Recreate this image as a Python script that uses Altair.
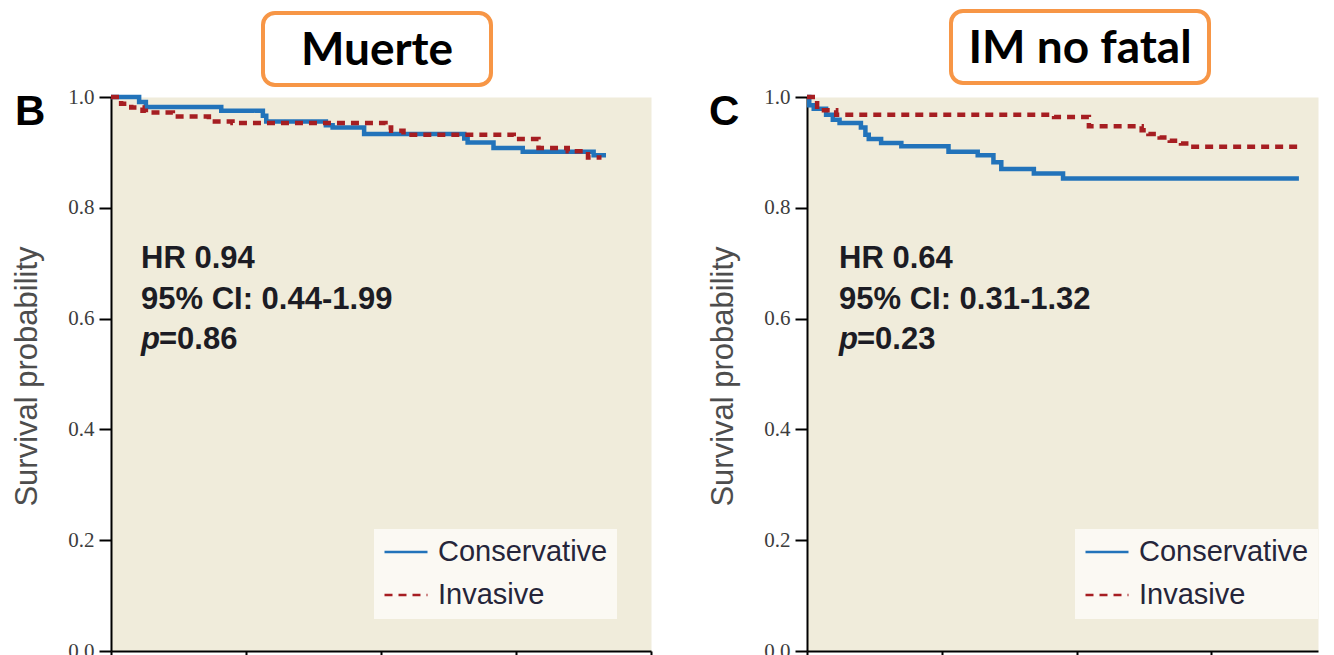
import altair as alt
import pandas as pd

groups = ["Conservative", "Invasive"]

# Panel B (Muerte): time in months, survival probability
b_cons_t = [0, 2.5, 3.1, 9.8, 13.5, 13.8, 19.1, 19.7, 22.5, 31.4, 31.7, 34.0, 36.6, 42.9, 44.0]
b_cons_s = [1.0, 0.991, 0.982, 0.975, 0.966, 0.956, 0.949, 0.945, 0.933, 0.925, 0.918, 0.908, 0.901, 0.895, 0.895]
b_inv_t = [0, 0.9, 1.8, 2.8, 3.1, 5.5, 8.7, 10.8, 24.4, 24.9, 26.0, 35.8, 38.0, 40.6, 42.4, 43.6]
b_inv_s = [1.0, 0.988, 0.981, 0.975, 0.972, 0.965, 0.956, 0.953, 0.945, 0.939, 0.932, 0.924, 0.908, 0.902, 0.891, 0.891]

# Panel C (IM no fatal)
c_cons_t = [0, 0.2, 0.6, 1.7, 2.3, 2.9, 4.8, 5.2, 5.5, 6.6, 8.4, 12.6, 15.2, 16.6, 17.3, 20.2, 22.8, 43.8]
c_cons_s = [1.0, 0.985, 0.979, 0.968, 0.959, 0.953, 0.945, 0.932, 0.924, 0.917, 0.911, 0.901, 0.895, 0.882, 0.870, 0.862, 0.853, 0.853]
c_inv_t = [0, 0.9, 2.6, 22.0, 25.1, 29.8, 30.4, 31.4, 32.3, 33.3, 34.0, 43.8]
c_inv_s = [1.0, 0.976, 0.968, 0.964, 0.947, 0.940, 0.933, 0.927, 0.921, 0.916, 0.910, 0.910]

y_ticks = [0.0, 0.2, 0.4, 0.6, 0.8, 1.0]
x_ticks = [0, 12, 24, 36, 48]

titles = ["Muerte", "IM no fatal"]
letters = ["B", "C"]
hr_text = ["HR 0.94", "HR 0.64"]
ci_text = ["95% CI: 0.44-1.99", "95% CI: 0.31-1.32"]
p_text = ["=0.86", "=0.23"]

BLUE = "#2273ba"
RED = "#a61e22"
BG = "#f0ecdb"
ORANGE = "#f79646"
TXT = "#1c1c24"
ANN = "Liberation Sans Narrow, Liberation Sans"


def frame(ct, cs, it, is_):
    rows = [{"t": t, "s": s, "group": groups[0]} for t, s in zip(ct, cs)]
    rows += [{"t": t, "s": s, "group": groups[1]} for t, s in zip(it, is_)]
    return pd.DataFrame(rows)


one = pd.DataFrame({"k": [0]})


def txt(text, x, y, size, font, weight="bold", style="normal", color=TXT,
        align="left", baseline="alphabetic"):
    return alt.Chart(one).mark_text(
        text=text, align=align, baseline=baseline, font=font, fontSize=size,
        fontWeight=weight, fontStyle=style, color=color
    ).encode(x=alt.value(x), y=alt.value(y))


def panel(df, xmax, width, i, box, legend_x, ann_x, letter_x, anchor=False):
    legend = alt.Legend(
        title=None, orient="none", legendX=legend_x, legendY=432,
        fillColor="#fbf9f3", padding=9, symbolType="stroke", symbolSize=1849,
        symbolStrokeWidth=2.5, labelFont="Liberation Sans", labelFontSize=29,
        labelColor="#25253a", labelOffset=9, rowPadding=14, clipHeight=28,
        labelLimit=0,
    )
    lines = alt.Chart(df).mark_line(interpolate="step-after", strokeWidth=4.5).encode(
        x=alt.X("t:Q", scale=alt.Scale(domain=[0, xmax], nice=False, zero=False),
                axis=alt.Axis(values=x_ticks, labels=False, title=None, tickSize=7,
                              tickWidth=2, tickColor="black", domainColor="black",
                              domainWidth=2, grid=False)),
        y=alt.Y("s:Q", scale=alt.Scale(domain=[0, 1], nice=False),
                axis=alt.Axis(values=y_ticks, format=".1f", title="Survival probability",
                              titleFont="Liberation Sans", titleFontSize=31,
                              titleFontWeight="normal", titleColor="#4d4d4d",
                              titleAngle=270, titleBaseline="bottom", titleAlign="center",
                              titleX=-68, titleY=279,
                              labelFont="Liberation Serif", labelFontSize=21,
                              labelColor="#3d3d3d", labelPadding=5, tickSize=12,
                              tickWidth=2, tickColor="black", domainColor="black",
                              domainWidth=2, grid=False)),
        color=alt.Color("group:N", scale=alt.Scale(domain=groups, range=[BLUE, RED]),
                        legend=legend),
        strokeDash=alt.StrokeDash("group:N",
                                  scale=alt.Scale(domain=groups, range=[[1, 0], [8, 6]]),
                                  legend=legend),
    )
    bx0, bx1, by0, by1 = box
    box_mark = alt.Chart(one).mark_rect(
        fill="white", stroke=ORANGE, strokeWidth=4, cornerRadius=12
    ).encode(x=alt.value(bx0), x2=alt.value(bx1), y=alt.value(by0), y2=alt.value(by1))
    layers = [
        lines,
        box_mark,
        txt(titles[i], (bx0 + bx1) / 2, (by0 + by1) / 2 + 2, 46, "Lato",
            color="black", align="center", baseline="middle"),
        txt(letters[i], letter_x, 28, 42, "Liberation Sans", color="black"),
        txt(hr_text[i], ann_x, 171, 31, ANN),
        txt(ci_text[i], ann_x, 212, 31, ANN),
        txt("p", ann_x, 252, 31, ANN, style="italic"),
        txt(p_text[i], ann_x + 18, 252, 31, ANN),
    ]
    if anchor:
        layers.append(
            alt.Chart(one).mark_rect(opacity=0).encode(
                x=alt.value(-102), x2=alt.value(-95), y=alt.value(-88), y2=alt.value(-80))
        )
    return alt.layer(*layers).properties(width=width, height=554)


left = panel(frame(b_cons_t, b_cons_s, b_inv_t, b_inv_s), 48, 540, 0,
             (152, 380, -84, -12), 263, 30, -96, anchor=True)
right = panel(frame(c_cons_t, c_cons_s, c_inv_t, c_inv_s), 45.5, 511, 1,
              (144, 402, -86, -14), 268, 32, -98)

chart = alt.hconcat(left, right, spacing=156, bounds="flush").resolve_scale(
    color="independent", strokeDash="independent"
).resolve_legend(
    color="independent", strokeDash="independent"
).properties(
    padding={"left": 0, "top": 0, "right": 0, "bottom": 0}
).configure_view(fill=BG, stroke="transparent")

chart.save("out.html", embed_options={"renderer": "svg", "actions": False})
